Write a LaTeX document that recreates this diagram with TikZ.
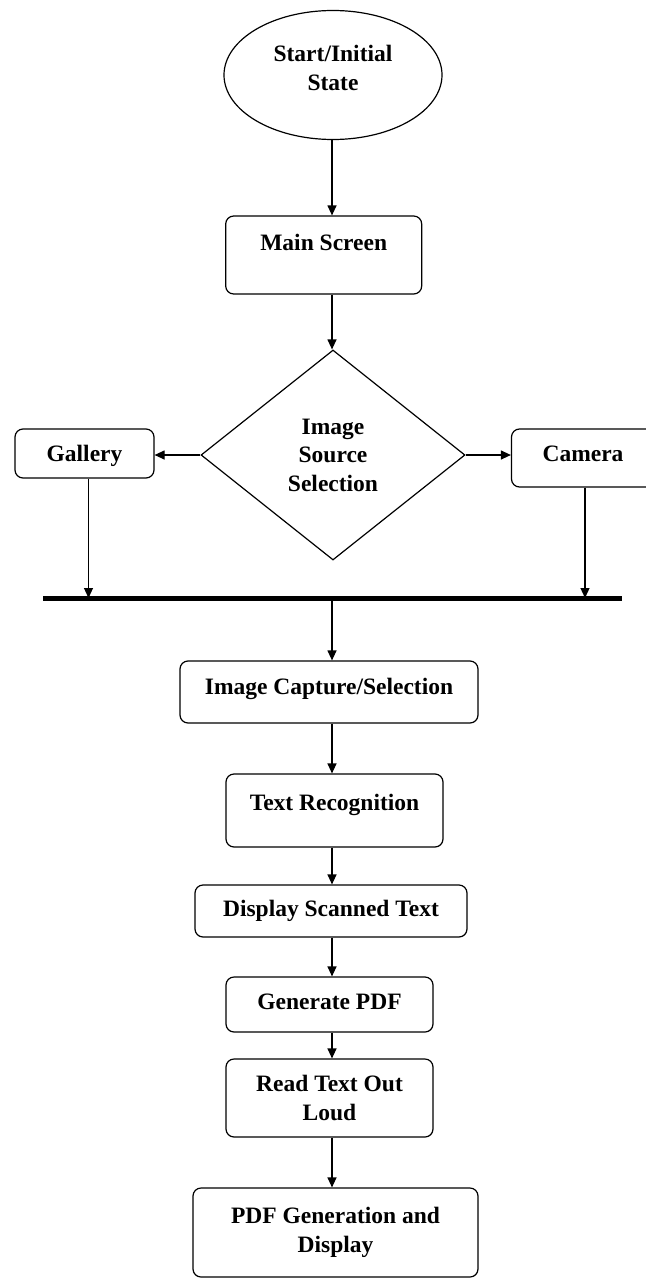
\documentclass[tikz,border=0pt]{standalone}
\usepackage{fontspec}
\setmainfont{Liberation Serif}
\usetikzlibrary{shapes.geometric}
\usetikzlibrary{arrows.meta}
\begin{document}
\begin{tikzpicture}[x=1pt,y=1pt,yscale=-1,xscale=1,
  box/.style={draw,rounded corners=8pt,line width=1.2pt,align=center,inner sep=2pt,font=\fontsize{23.5}{28.5}\selectfont\bfseries},
  oneline/.style={text height=16pt,text depth=#1},
  arr/.style={line width=1.2pt,-{Triangle[length=10pt,width=9pt]}}]
\useasboundingbox (0,0) rectangle (645,1279);
\coordinate (spine) at (332,0);
\node [box,ellipse,rounded corners=0pt,minimum width=218pt,minimum height=129pt,text depth=14pt] (start) at (333,75) {Start/Initial\\State};
\node [box,oneline=24.8pt,minimum width=196pt,minimum height=78pt] (main) at (323.7,255) {Main Screen};
\node [box,diamond,rounded corners=0pt,aspect=1.257,inner sep=0pt,minimum width=264pt,minimum height=210pt] (dia) at (333,455) {Image\\Source\\Selection};
\node [box,oneline=0pt,minimum width=139pt,minimum height=49pt] (gal) at (84.5,453.5) {Gallery};
\node [box,oneline=8.8pt,minimum width=143pt,minimum height=58pt] (cam) at (583,458) {Camera};
\coordinate (busL) at (43,598);
\coordinate (busR) at (622,598);
\node [box,oneline=10.8pt,minimum width=298pt,minimum height=62pt] (cap) at (329,692) {Image Capture/Selection};
\node [box,oneline=16.8pt,minimum width=217pt,minimum height=73pt] (rec) at (334.5,810.5) {Text Recognition};
\node [box,oneline=5pt,minimum width=272pt,minimum height=52pt] (disp) at (331,911) {Display Scanned Text};
\node [box,oneline=6pt,minimum width=207pt,minimum height=55pt] (gen) at (329.5,1004.5) {Generate PDF};
\node [box,minimum width=207pt,minimum height=78pt] (read) at (329.5,1098) {Read Text Out\\Loud};
\node [box,minimum width=285pt,minimum height=89pt] (pdf) at (335.5,1232.5) {PDF Generation and\\Display};
\draw [arr] (spine |- start.south) -- (spine |- main.north);
\draw [arr] (spine |- main.south) -- (spine |- dia.north);
\draw [arr] (dia.west) -- (dia.west -| gal.east);
\draw [arr] (dia.east) -- (dia.east -| cam.west);
\draw [arr] ([xshift=4pt]gal.south) -- ([xshift=4pt]gal.south |- busL);
\draw [arr] ([xshift=2pt]cam.south) -- ([xshift=2pt]cam.south |- busR);
\draw [line width=5pt] (busL) -- (busR);
\draw [arr] (spine |- busL) -- (spine |- cap.north);
\draw [arr] (spine |- cap.south) -- (spine |- rec.north);
\draw [arr] (spine |- rec.south) -- (spine |- disp.north);
\draw [arr] (spine |- disp.south) -- (spine |- gen.north);
\draw [arr] (spine |- gen.south) -- (spine |- read.north);
\draw [arr] (spine |- read.south) -- (spine |- pdf.north);
\end{tikzpicture}
\end{document}
